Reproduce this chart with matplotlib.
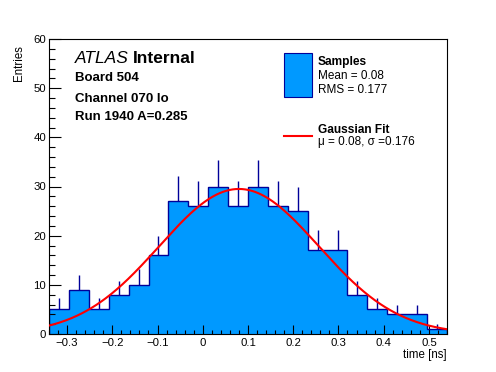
import numpy as np
import matplotlib
matplotlib.use('Agg')
import matplotlib.pyplot as plt
from matplotlib.patches import Rectangle
from matplotlib.lines import Line2D
from matplotlib.ticker import MultipleLocator

# ---- data ----
counts = [5, 9, 5, 8, 10, 16, 27, 26, 30, 26, 30, 26, 25, 17, 17, 8, 5, 4, 4, 1]
x_min, x_max = -0.34, 0.54
n_bins = 20
fit_mu = 0.08
fit_sigma = 0.176
fit_amp = 29.5
y_max = 60

info_lines = ["Board 504", "Channel 070 lo", "Run 1940 A=0.285"]
legend_hist_title = "Samples"
legend_hist_lines = ["Mean = 0.08", "RMS = 0.177"]
legend_fit_title = "Gaussian Fit"
legend_fit_line = "\u03bc = 0.08, \u03c3 =0.176"

FILL = "#0099ff"
EDGE = "#000099"
RED = "#ff0000"

plt.rcParams['font.family'] = ['Liberation Sans', 'DejaVu Sans']

W, H = 496, 372
fig = plt.figure(figsize=(W / 100, H / 100), dpi=100)
L, R, T, B = 49, 447, 39, 334
ax = fig.add_axes([L / W, 1 - B / H, (R - L) / W, (B - T) / H])

edges = np.linspace(x_min, x_max, n_bins + 1)
counts_arr = np.array(counts, dtype=float)
centers = 0.5 * (edges[:-1] + edges[1:])

ax.stairs(counts_arr, edges, fill=True, color=FILL, zorder=1)
ax.stairs(counts_arr, edges, fill=False, color=EDGE, linewidth=1.0, zorder=2)
ax.vlines(centers, counts_arr, counts_arr + np.sqrt(counts_arr), color=EDGE, linewidth=1.0, zorder=2)

xs = np.linspace(x_min, x_max, 500)
ys = fit_amp * np.exp(-0.5 * ((xs - fit_mu) / fit_sigma) ** 2)
ax.plot(xs, ys, color=RED, linewidth=1.5, zorder=3)

ax.set_xlim(x_min, x_max)
ax.set_ylim(0, y_max)
ax.xaxis.set_major_locator(MultipleLocator(0.1))
ax.xaxis.set_minor_locator(MultipleLocator(0.02))
ax.yaxis.set_major_locator(MultipleLocator(10))
ax.yaxis.set_minor_locator(MultipleLocator(2))
ax.tick_params(which='both', direction='in', top=False, right=False, width=0.8, colors='black')
ax.tick_params(axis='x', which='major', length=6.4, labelsize=8.2, pad=3.2)
ax.tick_params(axis='x', which='minor', length=3.2)
ax.tick_params(axis='y', which='major', length=8.6, labelsize=8.2, pad=2.2)
ax.tick_params(axis='y', which='minor', length=4.3)
for s in ax.spines.values():
    s.set_linewidth(0.8)

def fmt(v, pos):
    if abs(v) < 1e-9:
        return "0"
    return ("%.1f" % v).replace("-", "\u2212")
ax.xaxis.set_major_formatter(plt.FuncFormatter(fmt))
ax.yaxis.set_major_formatter(plt.FuncFormatter(lambda v, p: "%d" % v))

def ftext(x, y, s, **kw):
    fig.text(x / W, 1 - y / H, s, **kw)

ftext(19, 45, "Entries", rotation=90, ha='center', va='top', fontsize=8.3)
ftext(447, 358, "time [ns]", ha='right', va='baseline', fontsize=8.3)

# ATLAS label
t1 = fig.text(75 / W, 1 - 63.3 / H, "ATLAS", fontsize=12.5, style='italic', va='baseline')
fig.canvas.draw()
bb = t1.get_window_extent()
fig.text(bb.x1 / W + 4 / W, 1 - 63.3 / H, "Internal", fontsize=12.5, weight='bold', va='baseline')

for s, yb in zip(info_lines, [80.7, 101.5, 120]):
    ftext(75, yb, s, fontsize=9.5, weight='bold', va='baseline')

# legend
fig.patches.append(Rectangle((283.5 / W, 1 - 96.7 / H), 28 / W, 43.4 / H,
                             transform=fig.transFigure, facecolor=FILL,
                             edgecolor=EDGE, linewidth=0.8))
ftext(318, 65, legend_hist_title, fontsize=8.6, weight='bold', va='baseline')
ftext(318, 79.3, legend_hist_lines[0], fontsize=8.5, va='baseline')
ftext(318, 93.3, legend_hist_lines[1], fontsize=8.5, va='baseline')
fig.lines.append(Line2D([283.5 / W, 311.5 / W], [1 - 135.7 / H, 1 - 135.7 / H],
                        transform=fig.transFigure, color=RED, linewidth=1.5))
ftext(318, 132.7, legend_fit_title, fontsize=8.6, weight='bold', va='baseline')
ftext(318, 145.3, legend_fit_line, fontsize=8.5, va='baseline')

fig.savefig("out.png", dpi=100)
